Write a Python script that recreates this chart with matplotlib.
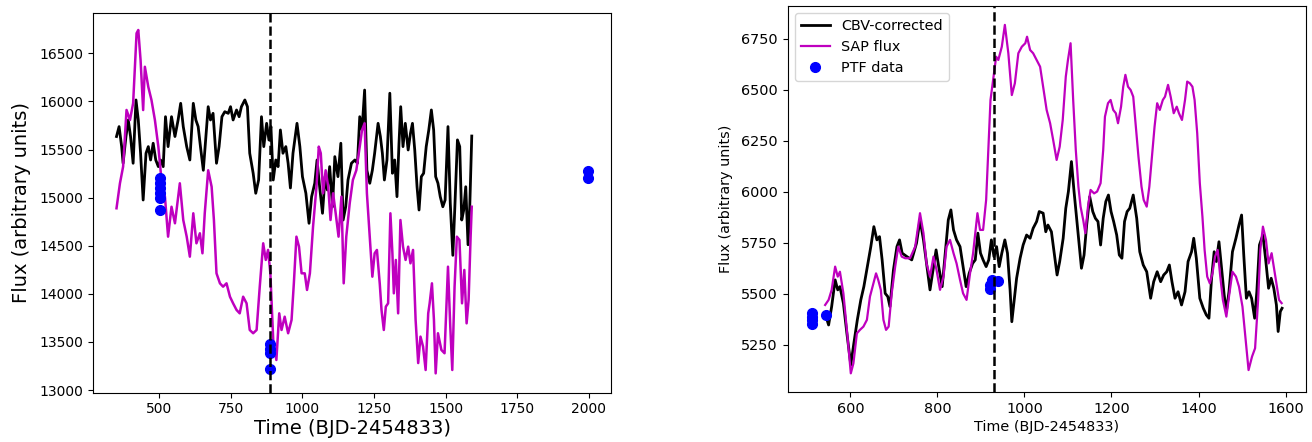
import matplotlib
matplotlib.use("Agg")
import matplotlib.pyplot as plt
import numpy as np

# ---------------- Left panel data ----------------
left_sap_t = [351, 363, 374, 386, 398, 409, 421, 427, 435, 444, 450, 462, 473, 485, 497, 508, 520, 531, 543, 555,
              572, 584, 596, 607, 619, 630, 642, 651, 659, 671, 683, 691, 700, 712, 723, 735, 747, 758, 770, 781,
              793, 805, 816, 828, 840, 851, 863, 872, 880, 888, 898, 909, 919, 927, 938, 950, 962, 970, 979, 988,
              997, 1008, 1016, 1026, 1037, 1049, 1057, 1064, 1072, 1081, 1090, 1098, 1107, 1116, 1126, 1136, 1144,
              1153, 1165, 1176, 1188, 1200, 1208, 1217, 1225, 1235, 1244, 1252, 1260, 1270, 1276, 1284, 1291, 1299,
              1307, 1314, 1319, 1326, 1334, 1342, 1351, 1360, 1369, 1377, 1386, 1395, 1404, 1412, 1421, 1430, 1439,
              1444, 1452, 1459, 1465, 1473, 1485, 1496, 1508, 1516, 1523, 1531, 1539, 1548, 1557, 1565, 1573, 1580,
              1587, 1591]
left_sap_f = [14889, 15149, 15321, 15911, 15807, 15980, 16708, 16742, 16430, 15910, 16360, 16150, 16015, 15807, 15530,
              15183, 15010, 14594, 14905, 14733, 15149, 14767, 14594, 14386, 14837, 14525, 14629, 14421, 14837, 15284,
              15113, 14767, 14213, 14109, 14074, 14109, 13970, 13901, 13832, 13797, 13970, 13901, 13624, 13590, 13624,
              14074, 14525, 14352, 14456, 14213, 13520, 13312, 13797, 13624, 13762, 13590, 13728, 14109, 14594, 14490,
              14213, 14213, 14040, 14213, 14698, 15113, 15530, 15461, 15045, 15284, 15113, 14767, 15045, 14837, 14594,
              15010, 14109, 14594, 14941, 15183, 15284, 15530, 15703, 15772, 15045, 14594, 14178, 14421, 14456, 14100,
              13832, 13624, 13866, 13901, 14837, 14421, 14005, 14352, 13797, 14767, 14490, 14352, 14490, 14317, 14456,
              13728, 13280, 13555, 13451, 13208, 13797, 13901, 14109, 13728, 13173, 13590, 13416, 13382, 14282, 13659,
              13208, 14074, 14594, 14560, 13901, 14248, 13693, 13936, 14594, 14905]

left_cbv_t = [351, 360, 369, 374, 384, 392, 400, 409, 419, 427, 435, 444, 454, 462, 470, 479, 488, 497, 505, 514,
              522, 531, 543, 555, 566, 575, 584, 596, 607, 619, 628, 636, 644, 654, 663, 671, 679, 688, 700, 709,
              719, 729, 741, 749, 758, 770, 779, 787, 799, 808, 816, 828, 837, 847, 857, 865, 875, 883, 890, 898,
              907, 915, 923, 932, 942, 950, 958, 967, 981, 991, 1000, 1012, 1023, 1032, 1043, 1051, 1060, 1070,
              1079, 1087, 1095, 1105, 1113, 1124, 1134, 1142, 1151, 1159, 1171, 1183, 1192, 1200, 1208, 1217, 1225,
              1235, 1244, 1252, 1264, 1272, 1279, 1286, 1295, 1305, 1314, 1322, 1330, 1337, 1343, 1351, 1359, 1369,
              1377, 1384, 1392, 1400, 1407, 1415, 1423, 1432, 1441, 1450, 1458, 1465, 1473, 1481, 1490, 1498, 1508,
              1516, 1525, 1532, 1541, 1549, 1556, 1563, 1570, 1578, 1584, 1591]
left_cbv_f = [15635, 15738, 15530, 15357, 15635, 15807, 15635, 15357, 16015, 15807, 15461, 14975, 15461, 15530, 15391,
              15565, 15391, 15322, 15391, 15322, 15841, 15530, 15841, 15635, 15807, 15980, 15738, 15530, 15391, 15980,
              15807, 15738, 15530, 15284, 15635, 15945, 15807, 15876, 15357, 15530, 15841, 15893, 15876, 15945, 15807,
              15911, 15841, 15945, 16015, 15945, 15461, 15253, 15045, 15183, 15841, 15530, 15772, 15599, 15738, 15183,
              15391, 15322, 15703, 15461, 15530, 15357, 15100, 15461, 15772, 15530, 15218, 15045, 14733, 15010, 15149,
              15391, 15113, 14837, 15218, 15079, 15322, 14905, 15426, 15218, 15565, 14767, 14905, 15183, 15357, 15391,
              15357, 15841, 15703, 16118, 15284, 15149, 15284, 15461, 15772, 15635, 15461, 15183, 15391, 16085, 15253,
              15391, 15010, 15565, 15945, 15530, 15772, 15495, 15668, 15772, 15495, 15113, 14871, 15218, 15253, 15530,
              15703, 15911, 15703, 15218, 15149, 15010, 14905, 14975, 15738, 14941, 14400, 14905, 15600, 15530, 14767,
              14871, 15113, 14510, 14905, 15640]

left_ptf_t = [502, 502, 502, 502, 502, 502, 887, 887, 887, 887, 1995, 1995]
left_ptf_f = [15200, 15150, 15100, 15050, 15000, 14870, 13480, 13430, 13380, 13215, 15280, 15200]
left_vline = 888

# ---------------- Right panel data ----------------
right_sap_t = [542, 550, 557, 565, 571, 576, 584, 592, 601, 607, 615, 622, 630, 638, 645, 653, 659, 664, 670, 676,
               682, 688, 695, 703, 710, 718, 726, 737, 749, 760, 768, 775, 783, 791, 798, 806, 814, 821, 829, 837,
               844, 852, 859, 867, 875, 882, 892, 898, 905, 912, 917, 922, 928, 935, 940, 948, 955, 963, 971, 978,
               986, 994, 1002, 1006, 1013, 1020, 1028, 1036, 1043, 1051, 1059, 1066, 1074, 1081, 1088, 1095, 1100,
               1106, 1112, 1118, 1124, 1129, 1135, 1140, 1146, 1152, 1160, 1167, 1175, 1181, 1185, 1192, 1198, 1204,
               1210, 1215, 1222, 1227, 1232, 1238, 1244, 1250, 1256, 1262, 1269, 1274, 1281, 1287, 1293, 1299, 1305,
               1311, 1318, 1323, 1330, 1336, 1343, 1350, 1355, 1362, 1369, 1374, 1380, 1386, 1391, 1397, 1403, 1409,
               1414, 1420, 1426, 1432, 1438, 1444, 1450, 1456, 1464, 1470, 1478, 1486, 1493, 1501, 1509, 1515, 1523,
               1530, 1537, 1542, 1548, 1555, 1561, 1568, 1573, 1579, 1585, 1591]
right_sap_f = [5446, 5471, 5520, 5634, 5585, 5609, 5503, 5324, 5111, 5160, 5307, 5324, 5340, 5373, 5487, 5552, 5601,
               5569, 5520, 5373, 5324, 5340, 5503, 5634, 5732, 5683, 5675, 5675, 5732, 5896, 5798, 5650, 5585, 5683,
               5618, 5520, 5585, 5732, 5765, 5700, 5650, 5569, 5503, 5471, 5601, 5700, 5896, 5814, 5814, 5961, 6206,
               6451, 6549, 6663, 6647, 6712, 6819, 6680, 6475, 6533, 6680, 6712, 6729, 6761, 6696, 6680, 6647, 6614,
               6516, 6402, 6337, 6255, 6157, 6222, 6353, 6565, 6647, 6729, 6451, 6206, 6026, 5928, 5863, 5798, 5928,
               6010, 5993, 6002, 6043, 6206, 6369, 6435, 6451, 6402, 6386, 6337, 6418, 6516, 6574, 6516, 6500, 6467,
               6320, 6173, 6026, 5961, 5928, 6026, 6173, 6320, 6435, 6402, 6451, 6467, 6525, 6467, 6386, 6418, 6386,
               6353, 6451, 6541, 6533, 6516, 6451, 6288, 6043, 5879, 5716, 5585, 5552, 5601, 5683, 5716, 5585, 5471,
               5389, 5487, 5609, 5585, 5536, 5438, 5258, 5127, 5193, 5234, 5471, 5716, 5830, 5765, 5650, 5700, 5634,
               5552, 5471, 5455]

right_cbv_t = [544, 550, 557, 565, 571, 576, 584, 592, 601, 608, 616, 624, 631, 639, 647, 654, 661, 667, 673, 680,
               686, 691, 699, 707, 713, 719, 730, 741, 752, 760, 768, 775, 783, 791, 797, 803, 811, 818, 825, 831,
               837, 844, 852, 859, 866, 873, 881, 887, 893, 899, 905, 912, 918, 924, 930, 936, 942, 948, 955, 961,
               967, 971, 982, 990, 997, 1005, 1013, 1020, 1028, 1034, 1043, 1049, 1054, 1062, 1070, 1075, 1081, 1089,
               1095, 1101, 1108, 1114, 1120, 1126, 1131, 1137, 1143, 1150, 1157, 1163, 1169, 1175, 1181, 1187, 1193,
               1199, 1205, 1212, 1218, 1224, 1230, 1236, 1242, 1250, 1258, 1265, 1273, 1281, 1290, 1297, 1305, 1313,
               1320, 1327, 1333, 1339, 1346, 1353, 1361, 1369, 1376, 1384, 1389, 1395, 1403, 1411, 1418, 1424, 1430,
               1436, 1441, 1447, 1453, 1459, 1464, 1470, 1478, 1486, 1493, 1499, 1504, 1510, 1516, 1522, 1529, 1534,
               1540, 1548, 1554, 1561, 1567, 1573, 1579, 1583, 1588, 1592]
right_cbv_f = [5389, 5348, 5438, 5569, 5520, 5536, 5454, 5307, 5152, 5258, 5373, 5471, 5536, 5634, 5732, 5830, 5765,
               5781, 5667, 5503, 5487, 5438, 5618, 5732, 5765, 5700, 5683, 5667, 5749, 5863, 5765, 5650, 5520, 5634,
               5716, 5634, 5536, 5700, 5863, 5912, 5814, 5765, 5732, 5634, 5536, 5601, 5650, 5667, 5798, 5700, 5667,
               5634, 5667, 5765, 5683, 5732, 5634, 5700, 5765, 5700, 5520, 5364, 5577, 5675, 5740, 5789, 5773, 5822,
               5855, 5904, 5896, 5805, 5838, 5805, 5675, 5593, 5659, 5773, 5920, 6002, 6149, 6002, 5871, 5740, 5626,
               5691, 5838, 5977, 5904, 5871, 5855, 5740, 5871, 5953, 5985, 5904, 5855, 5789, 5691, 5675, 5855, 5904,
               5920, 5985, 5871, 5707, 5642, 5609, 5479, 5560, 5609, 5560, 5593, 5609, 5642, 5560, 5479, 5511, 5446,
               5511, 5659, 5707, 5773, 5675, 5479, 5430, 5397, 5381, 5577, 5707, 5659, 5756, 5626, 5495, 5414, 5511,
               5707, 5773, 5838, 5887, 5691, 5479, 5511, 5479, 5381, 5511, 5740, 5789, 5675, 5528, 5577, 5528, 5446,
               5316, 5414, 5430]

right_ptf_t = [511, 511, 511, 511, 543, 922, 922, 925, 940]
right_ptf_f = [5405, 5385, 5370, 5355, 5395, 5525, 5545, 5570, 5562]
right_vline = 929

xlabel = "Time (BJD-2454833)"
ylabel = "Flux (arbitrary units)"

# ---------------- Figure ----------------
W, H = 1312, 442
fig = plt.figure(figsize=(W / 100, H / 100), dpi=100)

def box(x0, x1, ytop, ybot):
    return [x0 / W, (H - ybot) / H, (x1 - x0) / W, (ybot - ytop) / H]

axL = fig.add_axes(box(93.3, 611, 12.7, 392.7))
axL.plot(left_cbv_t, left_cbv_f, color="k", lw=2.0, zorder=2)
axL.plot(left_sap_t, left_sap_f, color="m", lw=1.8, zorder=2)
axL.plot(left_ptf_t, left_ptf_f, "o", color="b", ms=7, zorder=3)
axL.axvline(left_vline, color="k", ls="--", lw=1.8, zorder=4)
axL.set_xlim(270, 2077)
axL.set_ylim(12972, 16922)
axL.set_xticks([500, 750, 1000, 1250, 1500, 1750, 2000])
axL.set_yticks([13000, 13500, 14000, 14500, 15000, 15500, 16000, 16500])
axL.tick_params(labelsize=10)
axL.set_xlabel(xlabel, fontsize=14, labelpad=2)
axL.set_ylabel(ylabel, fontsize=14, labelpad=6)

axR = fig.add_axes(box(787.7, 1306, 5.7, 392.3))
axR.plot(right_cbv_t, right_cbv_f, color="k", lw=2.0, label="CBV-corrected", zorder=2)
axR.plot(right_sap_t, right_sap_f, color="m", lw=1.6, label="SAP flux", zorder=2)
axR.plot(right_ptf_t, right_ptf_f, "o", color="b", ms=7, label="PTF data", zorder=3)
axR.axvline(right_vline, color="k", ls="--", lw=1.8, zorder=4)
axR.set_xlim(456, 1647)
axR.set_ylim(5018, 6913)
axR.set_xticks([600, 800, 1000, 1200, 1400, 1600])
axR.set_yticks([5250, 5500, 5750, 6000, 6250, 6500, 6750])
axR.tick_params(labelsize=10.4)
axR.set_xlabel(xlabel, fontsize=10.4, labelpad=3)
axR.set_ylabel(ylabel, fontsize=10.4, labelpad=6)
axR.legend(loc="upper left", fontsize=10.4, numpoints=1)

fig.savefig("out.png", dpi=100)
